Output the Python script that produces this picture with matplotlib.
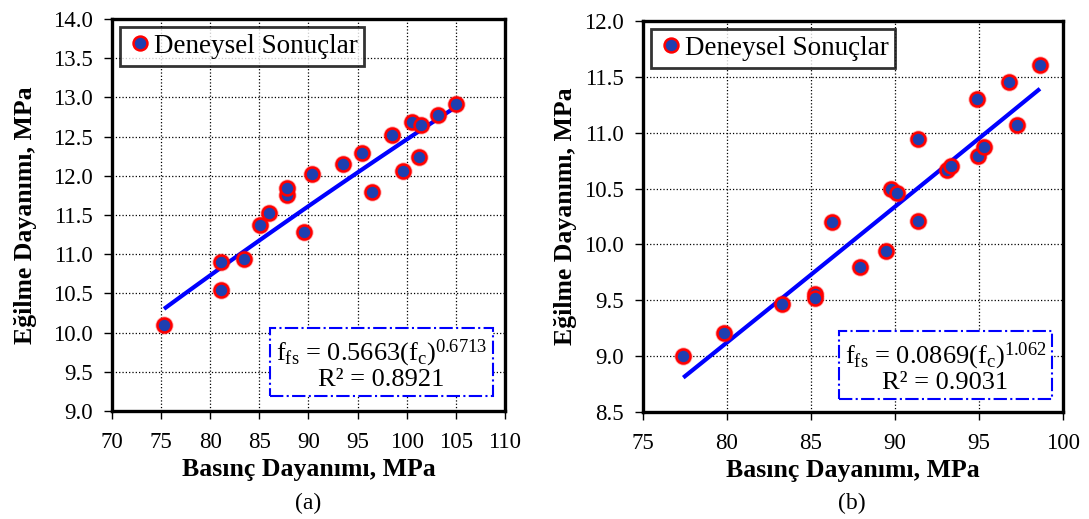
import numpy as np
import matplotlib
matplotlib.use("Agg")
import matplotlib.pyplot as plt

plt.rcParams['font.family'] = ['Liberation Serif', 'DejaVu Serif']
plt.rcParams['mathtext.fontset'] = 'custom'
plt.rcParams['mathtext.rm'] = 'Liberation Serif'

# (a) data
xa = [75.3, 81.1, 81.1, 83.4, 85.1, 86.0, 87.8, 87.8, 89.5, 90.4,
      93.5, 95.5, 96.5, 98.55, 99.6, 100.5, 101.2, 101.5, 103.2, 105.0]
ya = [10.10, 10.54, 10.90, 10.94, 11.37, 11.52, 11.75, 11.84, 11.28, 12.02,
      12.15, 12.29, 11.79, 12.52, 12.06, 12.69, 12.24, 12.65, 12.78, 12.91]
fit_a = (0.5663, 0.6713)
r2_a = 0.8921

# (b) data
xb = [77.4, 79.84, 83.29, 85.24, 85.24, 86.23, 87.92, 89.44, 89.76, 90.14,
      91.35, 91.39, 93.08, 93.32, 94.92, 94.9, 95.32, 96.79, 97.24, 98.63]
yb = [9.00, 9.21, 9.47, 9.56, 9.52, 10.20, 9.80, 9.94, 10.50, 10.46,
      10.94, 10.21, 10.67, 10.70, 10.79, 11.30, 10.87, 11.45, 11.07, 11.61]
fit_b = (0.0869, 1.062)
r2_b = 0.9031

fig = plt.figure(figsize=(10.89, 5.19), dpi=100)
ax1 = fig.add_axes([0.1028, 0.2081, 0.3609, 0.7553])
ax2 = fig.add_axes([0.5904, 0.2062, 0.3857, 0.7533])


def panel(ax, x, y, fit, r2, xlim, xticks, ylim, yticks, eq_pos, exp_txt, ypad):
    ax.plot(x, y, 'o', ms=13, color='red', alpha=0.35, mew=0, zorder=3)
    ax.plot(x, y, 'o', ms=10, mfc='#1f3fb0', mec='red', mew=1.8, zorder=4,
            label='Deneysel Sonuçlar')
    xx = np.linspace(min(x), max(x), 100)
    ax.plot(xx, fit[0] * xx ** fit[1], color='blue', lw=3, zorder=2,
            solid_capstyle='butt')
    ax.set_xlim(*xlim)
    ax.set_ylim(*ylim)
    ax.set_xticks(xticks)
    ax.set_yticks(yticks)
    ax.set_yticklabels(['%.1f' % v for v in yticks])
    ax.grid(True, color='black', ls=':', lw=0.9)
    for s in ax.spines.values():
        s.set_linewidth(2.4)
    ax.tick_params(direction='out', length=6, width=1, labelsize=16.5)
    ax.tick_params(axis='y', pad=8)
    ax.tick_params(axis='x', pad=9)
    ax.set_xlabel('Basınç Dayanımı, MPa', fontsize=18.5, fontweight='bold', labelpad=4)
    ax.set_ylabel('Eğilme Dayanımı, MPa', fontsize=18.5, fontweight='bold', labelpad=ypad)
    leg = ax.legend(loc='upper left', fontsize=19.5, frameon=True, fancybox=False,
                    handletextpad=0.0, handlelength=1.0, borderpad=0.25,
                    borderaxespad=0.3)
    leg.get_frame().set_edgecolor('black')
    leg.get_frame().set_linewidth(2)
    txt = (r'$\mathrm{f_{fs}}$ = ' + '%.4f' % fit[0] + r'$\mathrm{(f_c)^{' + exp_txt + '}}$'
           + '\nR² = %.4f' % r2)
    ax.text(eq_pos[0], eq_pos[1], txt, transform=ax.transAxes, fontsize=19,
            ha='center', va='center', multialignment='center', linespacing=1.0,
            bbox=dict(boxstyle='square,pad=0.22', fc='white', ec='blue', ls='-.', lw=1.5),
            zorder=5)


panel(ax1, xa, ya, fit_a, r2_a, (70, 110), np.arange(70, 111, 5),
      (9.0, 14.0), np.arange(9.0, 14.01, 0.5), (0.685, 0.12), '0.6713', 11)
panel(ax2, xb, yb, fit_b, r2_b, (75, 100), np.arange(75, 101, 5),
      (8.5, 12.0), np.arange(8.5, 12.01, 0.5), (0.72, 0.115), '1.062', 5)

fig.text(308 / 1089, 1 - 503 / 519, '(a)', fontsize=17, ha='center', va='center')
fig.text(852 / 1089, 1 - 503 / 519, '(b)', fontsize=17, ha='center', va='center')

fig.savefig('out.png', dpi=100)
